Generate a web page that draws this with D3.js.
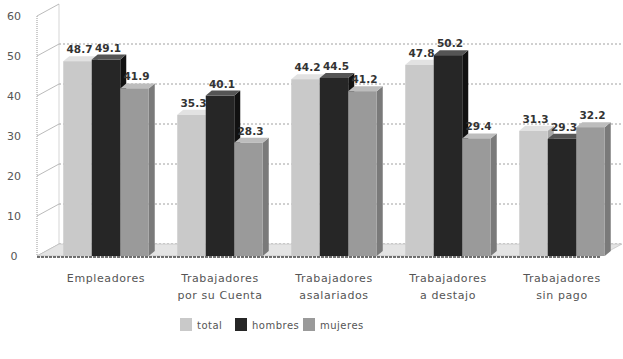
<!DOCTYPE html>
<html>
<head>
<meta charset="utf-8">
<script src="https://cdn.jsdelivr.net/npm/d3@7"></script>
<style>
  body { margin: 0; background: #fff; }
  svg text { font-family: "DejaVu Sans", sans-serif; }
</style>
</head>
<body>
<svg id="chart"></svg>
<script>
const width = 623, height = 359;

// data
const categories = ['Empleadores', 'Trabajadores por su Cuenta', 'Trabajadores asalariados', 'Trabajadores a destajo', 'Trabajadores sin pago'];
const catLines = [['Empleadores'], ['Trabajadores', 'por su Cuenta'], ['Trabajadores', 'asalariados'], ['Trabajadores', 'a destajo'], ['Trabajadores', 'sin pago']];
const series = ['total', 'hombres', 'mujeres'];
const total = [48.7, 35.3, 44.2, 47.8, 31.3];
const hombres = [49.1, 40.1, 44.5, 50.2, 29.3];
const mujeres = [41.9, 28.3, 41.2, 29.4, 32.2];
const yTicks = [0, 10, 20, 30, 40, 50, 60];

const values = { total, hombres, mujeres };
const colors = { total: '#c9c9c9', hombres: '#262626', mujeres: '#9a9a9a' };
const sideColors = { total: '#a8a8a8', hombres: '#111', mujeres: '#7a7a7a' };
const topColors = { total: '#e2e2e2', hombres: '#555', mujeres: '#bdbdbd' };

// 3d offsets
const wallDx = 22, wallDy = -12;
const capDx = 6, capDy = -5;

const svg = d3.select('#chart').attr('width', width).attr('height', height);

const y = d3.scaleLinear().domain([0, 60]).range([256, 16]);
const x = d3.scaleBand().domain(categories).range([49, 619]);
const xs = d3.scaleBand().domain(series).range([0, x.bandwidth()]).paddingOuter(0.5);

const axisX = 37;
const floorRight = 600;

// back wall gridlines
svg.append('g').selectAll('line')
  .data(yTicks.filter(d => d < 60))
  .join('line')
  .attr('x1', axisX + wallDx).attr('x2', floorRight + wallDx)
  .attr('y1', d => y(d) + wallDy).attr('y2', d => y(d) + wallDy)
  .attr('stroke', '#888').attr('stroke-dasharray', '2,2').attr('stroke-width', 0.8);

// back wall left edge
svg.append('line')
  .attr('x1', axisX + wallDx).attr('x2', axisX + wallDx)
  .attr('y1', y(60) + wallDy).attr('y2', y(0) + wallDy)
  .attr('stroke', '#bbb').attr('stroke-width', 0.6);

// left wall diagonals
svg.append('g').selectAll('line')
  .data(yTicks)
  .join('line')
  .attr('x1', axisX).attr('y1', d => y(d))
  .attr('x2', axisX + wallDx).attr('y2', d => y(d) + wallDy)
  .attr('stroke', '#aaa').attr('stroke-width', 0.8);

// floor
svg.append('path')
  .attr('d', `M${axisX},${y(0)} L${floorRight},${y(0)} L${floorRight + wallDx},${y(0) + wallDy} L${axisX + wallDx},${y(0) + wallDy} Z`)
  .attr('fill', '#e4e4e4').attr('stroke', '#bbb').attr('stroke-width', 0.6);

// vertical axis line
svg.append('line')
  .attr('x1', axisX).attr('x2', axisX)
  .attr('y1', y(60)).attr('y2', y(0))
  .attr('stroke', '#999').attr('stroke-dasharray', '1,1');

// y tick labels
svg.append('g').selectAll('text')
  .data(yTicks)
  .join('text')
  .attr('x', 14).attr('y', d => y(d) + 4)
  .attr('text-anchor', 'middle')
  .attr('font-size', 11).attr('fill', '#555')
  .text(d => d);

// bars
const bars = [];
categories.forEach((c, i) => {
  series.forEach(s => bars.push({ cat: c, s, v: values[s][i] }));
});

const barG = svg.append('g');
bars.forEach(d => {
  const x0 = x(d.cat) + xs(d.s), w = xs.bandwidth();
  const yt = y(d.v), yb = y(0);
  const g = barG.append('g');
  // side
  g.append('path')
    .attr('d', `M${x0 + w},${yb} L${x0 + w + capDx},${yb + capDy} L${x0 + w + capDx},${yt + capDy} L${x0 + w},${yt} Z`)
    .attr('fill', sideColors[d.s]);
  // top
  g.append('path')
    .attr('d', `M${x0},${yt} L${x0 + capDx},${yt + capDy} L${x0 + w + capDx},${yt + capDy} L${x0 + w},${yt} Z`)
    .attr('fill', topColors[d.s]);
  // front
  g.append('rect')
    .attr('x', x0).attr('y', yt)
    .attr('width', w).attr('height', yb - yt)
    .attr('fill', colors[d.s]);
});

// value labels
svg.append('g').selectAll('text')
  .data(bars)
  .join('text')
  .attr('x', d => x(d.cat) + xs(d.s) + xs.bandwidth() / 2 + 2)
  .attr('y', d => y(d.v) + capDy - 3)
  .attr('text-anchor', 'middle')
  .attr('font-size', 10.5).attr('font-weight', 'bold').attr('fill', '#333')
  .text(d => d.v.toFixed(1));

// floor front edge
svg.append('line')
  .attr('x1', axisX).attr('x2', floorRight)
  .attr('y1', y(0) + 1).attr('y2', y(0) + 1)
  .attr('stroke', '#444').attr('stroke-width', 1.5).attr('stroke-dasharray', '3,1');

// category labels
const catG = svg.append('g');
categories.forEach((c, i) => {
  const t = catG.append('text')
    .attr('x', x(c) + x.bandwidth() / 2)
    .attr('y', 282)
    .attr('text-anchor', 'middle')
    .attr('font-size', 11).attr('fill', '#555')
    .attr('letter-spacing', 0.6);
  catLines[i].forEach((line, j) => {
    t.append('tspan')
      .attr('x', x(c) + x.bandwidth() / 2)
      .attr('dy', j === 0 ? 0 : 17)
      .text(line);
  });
});

// legend
const legendX = [180, 235, 303];
const legend = svg.append('g').selectAll('g')
  .data(series)
  .join('g')
  .attr('transform', (d, i) => `translate(${legendX[i]},318)`);
legend.append('rect')
  .attr('width', 12).attr('height', 13)
  .attr('fill', d => colors[d]);
legend.append('text')
  .attr('x', 17).attr('y', 11)
  .attr('font-size', 10).attr('fill', '#555')
  .attr('letter-spacing', 0.5)
  .text(d => d);
</script>
</body>
</html>
